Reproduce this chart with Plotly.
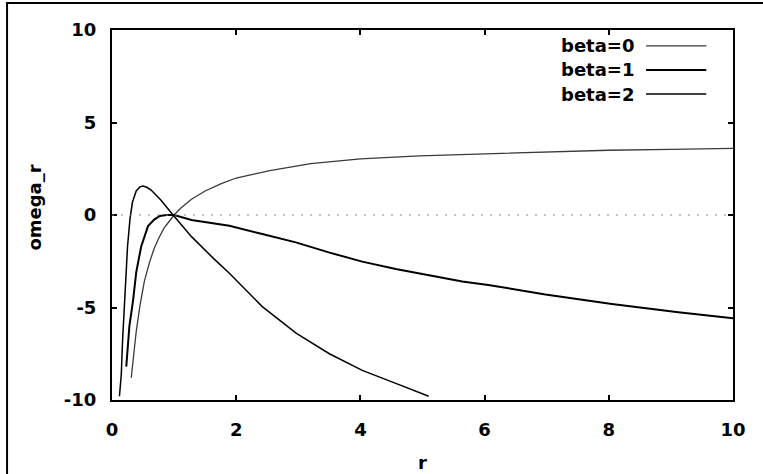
import plotly.graph_objects as go

# values
r_beta0 = [0.31, 0.39, 0.45, 0.52, 0.60, 0.68, 0.76, 0.84, 0.92, 1.0, 1.1, 1.2, 1.28, 1.5, 1.76,
           2.0, 2.54, 3.2, 4.0, 4.95, 5.9, 7.0, 8.0, 9.0, 10.0]
w_beta0 = [-8.8, -6.3, -4.9, -3.6, -2.6, -1.8, -1.2, -0.7, -0.35, 0.0, 0.35, 0.65, 0.85, 1.3, 1.7,
           2.0, 2.4, 2.78, 3.03, 3.2, 3.3, 3.42, 3.5, 3.55, 3.6]

r_beta1 = [0.23, 0.28, 0.34, 0.39, 0.47, 0.58, 0.68, 0.77, 0.88, 1.0, 1.28, 1.6, 1.89,
           2.42, 2.96, 3.49, 4.03, 4.57, 5.10, 5.64, 6.06, 6.98, 8.05, 9.12, 10.0]
w_beta1 = [-8.2, -6.0, -4.6, -3.1, -1.7, -0.6, -0.25, -0.05, 0.0, 0.0, -0.27, -0.42, -0.58,
           -1.03, -1.48, -2.02, -2.52, -2.92, -3.24, -3.6, -3.78, -4.3, -4.81, -5.26, -5.58]

r_beta2 = [0.12, 0.15, 0.17, 0.21, 0.25, 0.29, 0.33, 0.39, 0.45, 0.5, 0.56, 0.63, 0.79, 0.97,
           1.28, 1.65, 1.89, 2.42, 2.97, 3.5, 4.03, 4.57, 5.1]
w_beta2 = [-9.8, -8.6, -6.8, -4.2, -1.7, -0.2, 0.7, 1.3, 1.52, 1.57, 1.5, 1.35, 0.8, 0.05,
           -1.17, -2.4, -3.15, -4.95, -6.4, -7.5, -8.4, -9.1, -9.8]

labels = ["beta=0", "beta=1", "beta=2"]
x_ticks = [0, 2, 4, 6, 8, 10]
y_ticks = [-10, -5, 0, 5, 10]
y_ticktext = ["-10", "-5", "0", "5", "10"]

FONT = "DejaVu Sans"
FS = 18
styles = [dict(color="#3a3a3a", width=1.3), dict(color="black", width=2.0), dict(color="black", width=1.5)]

fig = go.Figure()
series = [(r_beta0, w_beta0), (r_beta1, w_beta1), (r_beta2, w_beta2)]
for (r, w), name, st in zip(series, labels, styles):
    fig.add_trace(go.Scatter(x=r, y=w, mode="lines", name=name, line=st, showlegend=False))

# dotted zero axis
fig.add_shape(type="line", xref="x", yref="y", x0=0, x1=10, y0=0, y1=0,
              line=dict(color="#888888", width=1, dash="2px,7px"))

# legend drawn gnuplot-style: text then sample line
leg_y = [0.957, 0.892, 0.827]
for name, st, yy in zip(labels, styles, leg_y):
    fig.add_annotation(x=0.844, y=yy, xref="paper", yref="paper", text=name, showarrow=False,
                       xanchor="right", yanchor="middle",
                       font=dict(family=FONT, size=FS, color="black", weight="bold"))
    fig.add_shape(type="line", xref="paper", yref="paper", x0=0.860, x1=0.957, y0=yy, y1=yy, line=st)

# outer frame
fig.add_shape(type="rect", xref="paper", yref="paper", x0=-0.169, x1=1.2, y0=-0.3, y1=1.073,
              line=dict(color="black", width=2))

fig.add_annotation(x=-0.124, y=0.52, xref="paper", yref="paper", text="omega_r", showarrow=False,
                   textangle=-90, xanchor="center", yanchor="middle",
                   font=dict(family=FONT, size=FS, color="black", weight="bold"))
fig.add_annotation(x=0.5, y=-0.17, xref="paper", yref="paper", text="r", showarrow=False,
                   xanchor="center", yanchor="middle",
                   font=dict(family=FONT, size=FS, color="black", weight="bold"))

axis_common = dict(showgrid=False, zeroline=False, showline=True, linecolor="black", linewidth=2,
                   mirror="allticks", ticks="inside", ticklen=5, tickwidth=1.5, tickcolor="black",
                   tickfont=dict(family=FONT, size=FS, color="black", weight="bold"))
fig.update_xaxes(range=[0, 10], tickvals=x_ticks, ticklabelstandoff=12, **axis_common)
fig.update_yaxes(range=[-10, 10], tickvals=y_ticks, ticktext=y_ticktext, ticklabelstandoff=10,
                 **axis_common)

fig.update_layout(width=763, height=474, margin=dict(l=112, r=30, t=30, b=74),
                  plot_bgcolor="white", paper_bgcolor="white")

fig.write_html("out.html", config={"displayModeBar": False},
               post_script="document.body.style.margin='0';")
